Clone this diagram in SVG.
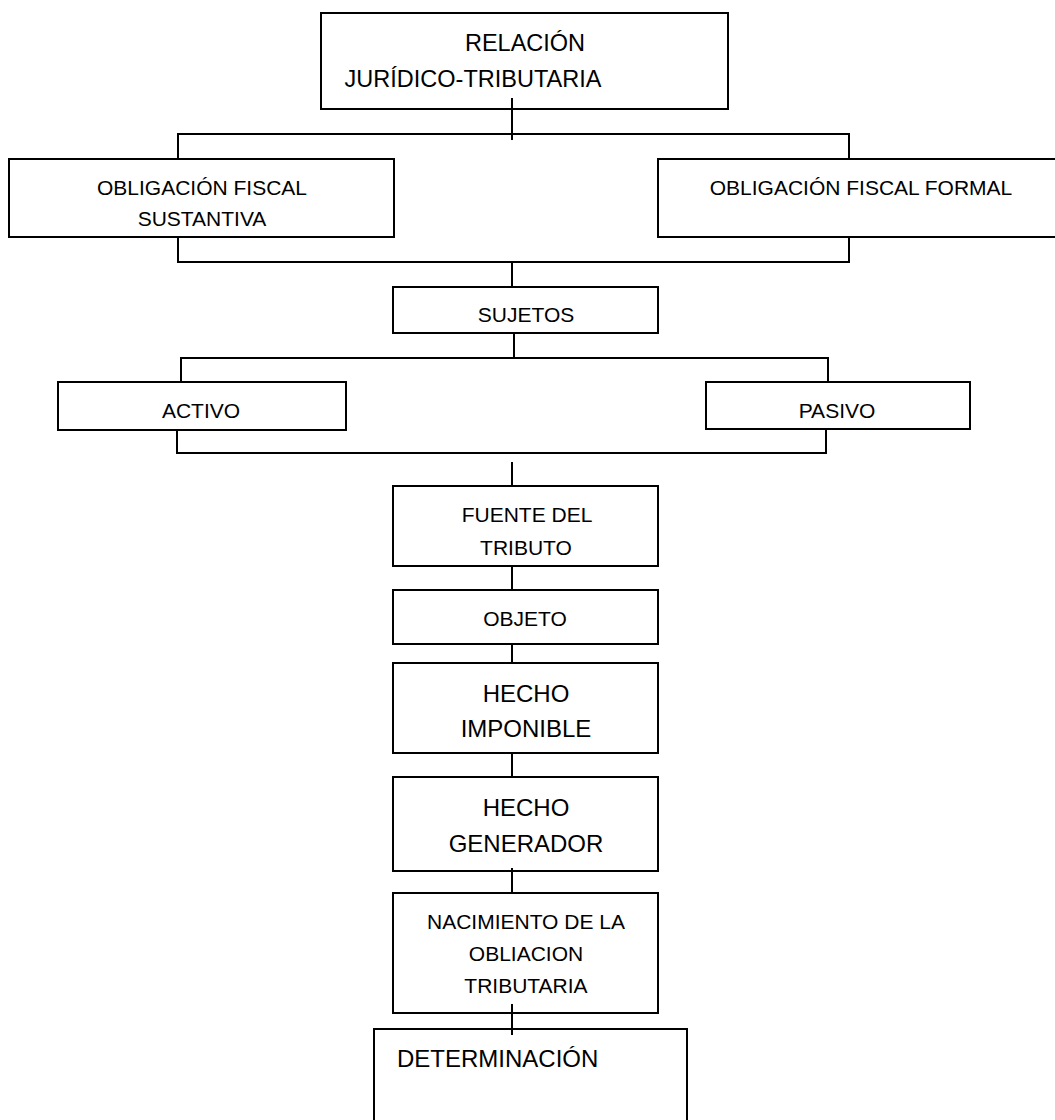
<svg xmlns="http://www.w3.org/2000/svg" width="1055" height="1120" viewBox="0 0 1055 1120">
<style>
.box{fill:#fff;stroke:#000;stroke-width:2}
.ln{fill:none;stroke:#000;stroke-width:2}
text{font-family:"Liberation Sans",Arial,sans-serif;fill:#000;text-anchor:middle;font-size:21px}
.big{font-size:24px}
.top{font-size:23.5px}
</style>
<rect width="1055" height="1120" fill="#fff"/>
<g id="n-relacion"><rect class="box" x="321" y="13" width="407" height="96"/><text class="top" x="525" y="51">RELACIÓN</text><text class="top" x="473" y="87">JURÍDICO-TRIBUTARIA</text></g>
<g id="n-sustantiva"><rect class="box" x="9" y="159" width="385" height="78"/><text x="202" y="195">OBLIGACIÓN FISCAL</text><text x="202" y="226">SUSTANTIVA</text></g>
<g id="n-formal"><rect class="box" x="658" y="159" width="402" height="78"/><text x="861" y="195">OBLIGACIÓN FISCAL FORMAL</text></g>
<g id="n-sujetos"><rect class="box" x="393" y="287" width="265" height="46"/><text x="526" y="322">SUJETOS</text></g>
<g id="n-activo"><rect class="box" x="58" y="382" width="288" height="48"/><text x="201" y="418">ACTIVO</text></g>
<g id="n-pasivo"><rect class="box" x="706" y="382" width="264" height="47"/><text x="837" y="418">PASIVO</text></g>
<g id="n-fuente"><rect class="box" x="393" y="486" width="265" height="80"/><text x="527" y="522">FUENTE DEL</text><text x="526" y="555">TRIBUTO</text></g>
<g id="n-objeto"><rect class="box" x="393" y="590" width="265" height="54"/><text x="525" y="626">OBJETO</text></g>
<g id="n-imponible"><rect class="box" x="393" y="663" width="265" height="90"/><text class="big" x="526" y="702">HECHO</text><text class="big" x="526" y="737">IMPONIBLE</text></g>
<g id="n-generador"><rect class="box" x="393" y="777" width="265" height="94"/><text class="big" x="526" y="816">HECHO</text><text class="big" x="526" y="852">GENERADOR</text></g>
<g id="n-nacimiento"><rect class="box" x="393" y="893" width="265" height="120"/><text x="526" y="929">NACIMIENTO DE LA</text><text x="526" y="961">OBLIACION</text><text x="526" y="993">TRIBUTARIA</text></g>
<g id="n-determinacion"><rect class="box" x="374" y="1029" width="313" height="110"/><text class="big" x="397" y="1067" style="text-anchor:start">DETERMINACIÓN</text></g>
<g id="connectors">
<path class="ln" d="M512 98V140M178 159V134H849V159"/>
<path class="ln" d="M178 237V262H849V237M512 262V287"/>
<path class="ln" d="M514 333V358M181 382V358H828V382"/>
<path class="ln" d="M177 430V453H826V429"/>
<path class="ln" d="M512 462V486M512 566V590M512 644V663M512 753V777M512 868V893M512 1004V1035"/>
</g>
</svg>
